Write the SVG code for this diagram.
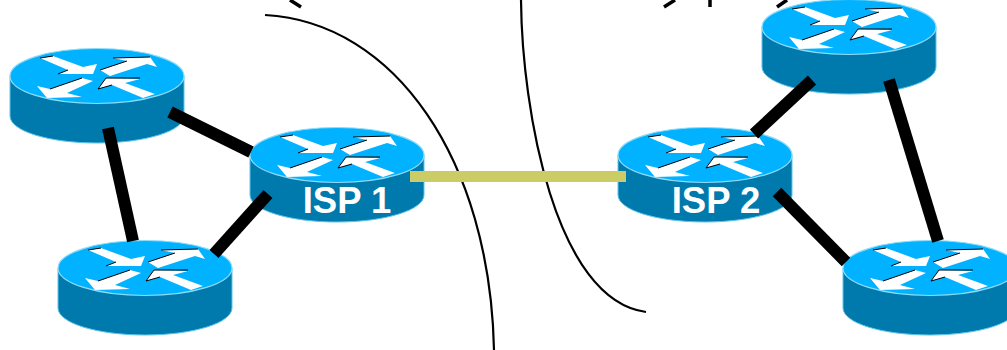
<svg xmlns="http://www.w3.org/2000/svg" width="1007" height="350" viewBox="0 0 1007 350">
<style>
.link{stroke:#000;stroke-width:12;fill:none}
.curve{stroke:#000;stroke-width:2.2;fill:none}
.crop{stroke:#000;stroke-width:3.5;fill:none}
.lbl{font-family:"Liberation Sans",Arial,sans-serif;font-weight:700;font-size:36.5px;fill:#fff;text-anchor:middle}
.arr{fill:#fff}
.sh{stroke:#000;stroke-width:1;fill:none}
</style>
<defs>
<g id="router">
<path d="M-87 0V40C-87 55 -48 67 0 67S87 55 87 40V0Z" fill="#0079ad" stroke="#5cc4ea" stroke-width="1"/>
<ellipse cx="0" cy="0" rx="87" ry="27.5" fill="#00b2ff" stroke="#8fdcf7" stroke-width="1.2"/>
<polygon class="arr" points="-57,-18 -44,-20 -14,-9 0,-12 -4,-2 -39,-2 -29,-6"/>
<polygon class="arr" points="3,-6 30,-15 16,-18 53,-19 60,-9 50,-12 13,0"/>
<polygon class="arr" points="-60,10 -47,13 -15,2 -4,5 -30,17 -15,21 -50,22"/>
<polygon class="arr" points="1,13 9,2 43,3 28,7 58,18 46,22 15,9"/>
<path class="sh" d="M-57 -18L-44 -20M-39 -2L-29 -6M16 -18L53 -19M3 -6L30 -15M-47 13L-15 2M1 13L9 2H43M1 13L15 9"/>
</g>
</defs>
<g id="r-left-top"><use href="#router" x="97" y="76"/></g>
<g id="r-left-bottom"><use href="#router" x="145" y="268"/></g>
<g id="r-right-top"><use href="#router" x="849" y="27"/></g>
<g id="r-right-bottom"><use href="#router" x="930" y="268"/></g>
<g id="isp1"><use href="#router" x="337" y="155"/><text class="lbl" x="347" y="213">ISP 1</text></g>
<g id="isp2"><use href="#router" x="705" y="155"/><text class="lbl" x="716" y="213">ISP 2</text></g>
<g id="connectors">
<line class="link" x1="108" y1="128" x2="133" y2="241"/>
<line class="link" x1="170" y1="112" x2="251" y2="152"/>
<line class="link" x1="214" y1="254" x2="268" y2="194"/>
<line class="link" x1="754" y1="134" x2="812" y2="80"/>
<line class="link" x1="889" y1="80" x2="938" y2="241"/>
<line class="link" x1="777" y1="192" x2="846" y2="262"/>
<path class="curve" d="M265 15C395 22 490 160 494 350"/>
<path class="curve" d="M521 0C522 110 555 300 646 312"/>
<line x1="410" y1="176.500" x2="626" y2="176.500" stroke="#cccc66" stroke-width="11"/>
</g>
<g id="top-marks">
<path class="crop" d="M290 0L301 7"/>
<path class="crop" d="M664 7L675 0"/>
<line class="crop" x1="710" y1="0" x2="710" y2="7"/>
<path class="crop" d="M777 7L787 0"/>
</g>
</svg>
